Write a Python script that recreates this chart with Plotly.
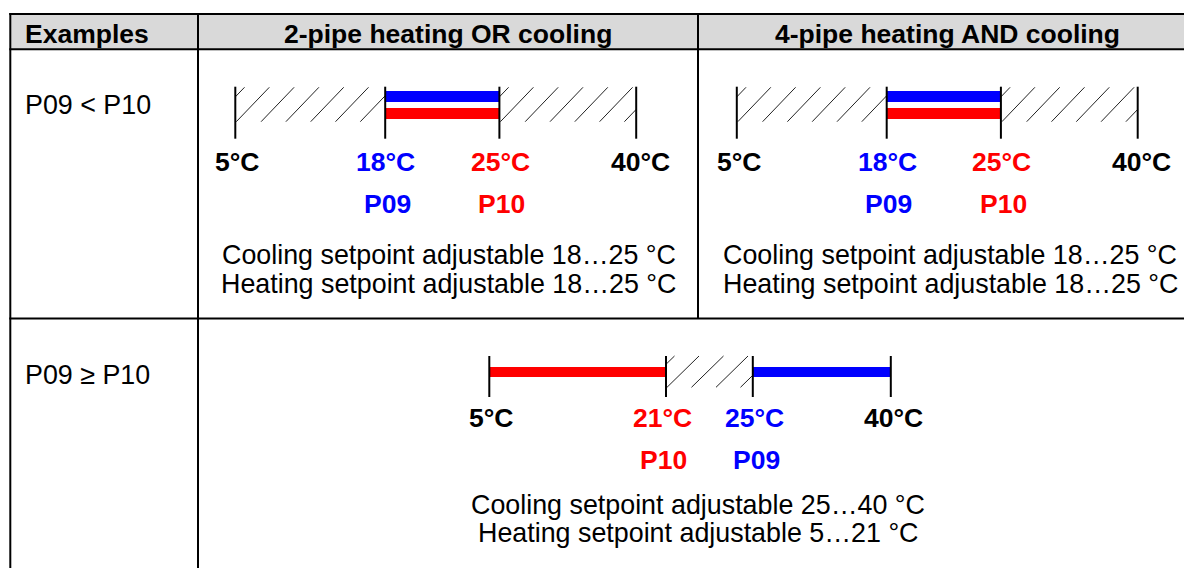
import math
import plotly.graph_objects as go

W, H = 1184, 568

# ---------------- data ----------------
header_labels = ["Examples", "2-pipe heating OR cooling", "4-pipe heating AND cooling"]
row_labels = ["P09 < P10", "P09 ≥ P10"]

scale_min = 5
scale_max = 40

# Example 1: P09 < P10
lt_p09 = 18
lt_p10 = 25
lt_cool_range = [18, 25]
lt_heat_range = [18, 25]

# Example 2: P09 >= P10
ge_p10 = 21
ge_p09 = 25
ge_cool_range = [25, 40]
ge_heat_range = [5, 21]

# ---------------- layout / style constants ----------------
FONT = "Liberation Sans, Arial, Helvetica, sans-serif"
FS = 26.5      # bold labels
FS_REG = 26.85  # regular text
BLUE = "#0000ff"
RED = "#ff0000"
BLACK = "#000000"
GREY = "#d9d9d9"

# table grid (pixel space)
X_LEFT, X_COL1, X_COL2, X_RIGHT = 10.3, 198, 698, 1200
Y_TOP, Y_HEAD, Y_ROW = 14, 49.3, 318.5

# schematic x positions of the four scale marks (min, p_a, p_b, max)
pos_lt = [235.3, 385.2, 499.4, 636.2]
lab_lt = [237.0, 385.7, 500.3, 640.0]
plab_lt = [387.0, 501.7]
DX2 = 501.5  # shift of the 4-pipe diagram
pos_ge = [489.3, 666.0, 752.8, 890.8]
lab_ge = [490.5, 662.0, 754.0, 893.7]
plab_ge = [663.7, 756.0]

fig = go.Figure()
shapes = []
annotations = []


def line(x0, y0, x1, y1, w=2, color=BLACK):
    shapes.append(dict(type="line", x0=x0, y0=y0, x1=x1, y1=y1,
                       line=dict(color=color, width=w), layer="above"))


def rect(x0, y0, x1, y1, color):
    shapes.append(dict(type="rect", x0=x0, y0=y0, x1=x1, y1=y1,
                       fillcolor=color, line=dict(width=0), layer="above"))


def text(x, y, s, color=BLACK, bold=False, xanchor="center", size=None):
    if size is None:
        size = FS if bold else FS_REG
    annotations.append(dict(x=x, y=y, xref="x", yref="y", text=("<b>%s</b>" % s) if bold else s,
                            showarrow=False, xanchor=xanchor, yanchor="middle",
                            font=dict(family=FONT, size=size, color=color)))


def hatch(x0, x1, ytop, ybot, spacing, dx):
    xs, ys = [], []
    h = ybot - ytop
    k = -math.ceil(dx / spacing)
    while True:
        xb = x0 + 1 + k * spacing
        if xb >= x1:
            break
        xt = xb + dx
        ax, ay, bx, by = xb, ybot, xt, ytop
        if ax < x0:
            t = (x0 - ax) / dx
            ax, ay = x0, ybot - t * h
        if bx > x1:
            t = (x1 - xb) / dx
            bx, by = x1, ybot - t * h
        if bx > ax:
            xs += [ax, bx, None]
            ys += [ay, by, None]
        k += 1
    fig.add_trace(go.Scatter(x=xs, y=ys, mode="lines", line=dict(color="#222222", width=1),
                             hoverinfo="skip", showlegend=False))


# ---------------- table ----------------
rect(X_LEFT, Y_TOP, X_RIGHT, Y_HEAD, GREY)
line(X_LEFT - 1, Y_TOP, X_RIGHT, Y_TOP)
line(X_LEFT - 1, Y_HEAD, X_RIGHT, Y_HEAD)
line(X_LEFT - 1, Y_ROW, X_RIGHT, Y_ROW)
line(X_LEFT, Y_TOP - 1, X_LEFT, H + 5)
line(X_COL1, Y_TOP - 1, X_COL1, H + 5)
line(X_COL2, Y_TOP - 1, X_COL2, Y_ROW)

text(23, 34, header_labels[0], bold=True, xanchor="left")
text(448, 34, header_labels[1], bold=True)
text(947, 34, header_labels[2], bold=True)
text(23, 105, row_labels[0], xanchor="left")
text(23, 374.5, row_labels[1], xanchor="left")


# ---------------- scale diagrams ----------------
def diagram_lt(dx):
    temps = [scale_min, lt_p09, lt_p10, scale_max]
    cols = [BLACK, BLUE, RED, BLACK]
    p = [v + dx for v in pos_lt]
    rect(p[1], 91, p[2], 102, BLUE)
    rect(p[1], 108, p[2], 119, RED)
    hatch(p[0], p[1], 87.3, 121.7, 24.8, 33)
    hatch(p[2], p[3], 87.3, 121.7, 24.8, 33)
    for v in p:
        line(v, 86.7, v, 138.7)
    for t, c, lx in zip(temps, cols, lab_lt):
        text(lx + dx, 161.7, "%d°C" % t, color=c, bold=True)
    text(plab_lt[0] + dx, 204, "P09", color=BLUE, bold=True)
    text(plab_lt[1] + dx, 204, "P10", color=RED, bold=True)
    cx = 448.5 + dx
    text(cx, 255, "Cooling setpoint adjustable %d…%d °C" % tuple(lt_cool_range))
    text(cx, 284, "Heating setpoint adjustable %d…%d °C" % tuple(lt_heat_range))


diagram_lt(0)
diagram_lt(DX2)

# P09 >= P10
temps_ge = [scale_min, ge_p10, ge_p09, scale_max]
cols_ge = [BLACK, RED, BLUE, BLACK]
rect(pos_ge[0], 367, pos_ge[1], 377, RED)
rect(pos_ge[2], 367, pos_ge[3], 377, BLUE)
hatch(pos_ge[1], pos_ge[2], 356, 387.3, 24.5, 32)
for v in pos_ge:
    line(v, 356, v, 397)
for t, c, lx in zip(temps_ge, cols_ge, lab_ge):
    text(lx, 418, "%d°C" % t, color=c, bold=True)
text(plab_ge[0], 460, "P10", color=RED, bold=True)
text(plab_ge[1], 460, "P09", color=BLUE, bold=True)
text(697.5, 505, "Cooling setpoint adjustable %d…%d °C" % tuple(ge_cool_range))
text(698, 533, "Heating setpoint adjustable %d…%d °C" % tuple(ge_heat_range))

fig.update_layout(
    width=W, height=H,
    margin=dict(l=0, r=0, t=0, b=0),
    paper_bgcolor="white", plot_bgcolor="white",
    xaxis=dict(range=[0, W], visible=False, fixedrange=True),
    yaxis=dict(range=[H, 0], visible=False, fixedrange=True),
    shapes=shapes, annotations=annotations, showlegend=False,
)
fig.write_html(
    "out.html",
    config={"displayModeBar": False},
    post_script="document.body.style.margin='0';document.body.style.overflow='hidden';",
)
